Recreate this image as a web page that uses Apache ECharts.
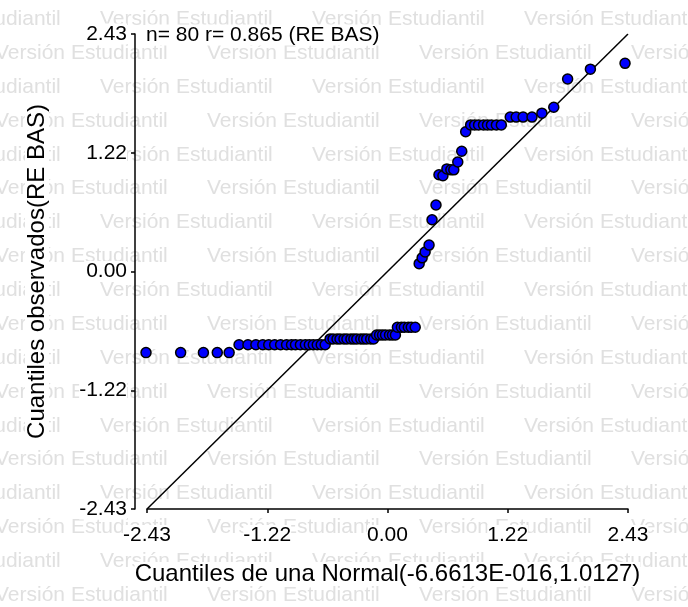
<!DOCTYPE html>
<html>
<head>
<meta charset="utf-8">
<script src="https://cdn.jsdelivr.net/npm/echarts@6/dist/echarts.min.js"></script>
<style>
html,body{margin:0;padding:0;background:#fff;}
#chart{width:688px;height:607px;}
</style>
</head>
<body>
<div id="chart"></div>
<script>
const xQuant = [
  -2.44, -2.09, -1.86, -1.72, -1.60,
  -1.50, -1.41, -1.33, -1.26, -1.20, -1.14, -1.08, -1.02, -0.97, -0.93, -0.88, -0.83, -0.79, -0.75, -0.71, -0.67, -0.63,
  -0.58, -0.55, -0.51, -0.48, -0.44, -0.41, -0.37, -0.34, -0.31, -0.27, -0.24, -0.21, -0.17, -0.14,
  -0.11, -0.08, -0.05, -0.02, 0.02, 0.05, 0.08,
  0.10, 0.14, 0.17, 0.21, 0.24, 0.28,
  0.32, 0.35, 0.38, 0.42, 0.45, 0.49, 0.52, 0.56, 0.60, 0.64, 0.67, 0.71, 0.75,
  0.79,
  0.84, 0.88, 0.92, 0.97, 1.01, 1.05, 1.10, 1.15,
  1.24, 1.30, 1.37, 1.46,
  1.56, 1.68, 1.82, 2.05, 2.40
];
const yObs = [
  -0.83, -0.83, -0.83, -0.83, -0.83,
  -0.75, -0.75, -0.75, -0.75, -0.75, -0.75, -0.75, -0.75, -0.75, -0.75, -0.75, -0.75, -0.75, -0.75, -0.75, -0.75, -0.75,
  -0.69, -0.69, -0.69, -0.69, -0.69, -0.69, -0.69, -0.69, -0.69, -0.69, -0.69, -0.69, -0.69, -0.69,
  -0.65, -0.65, -0.65, -0.65, -0.65, -0.65, -0.65,
  -0.57, -0.57, -0.57, -0.57, -0.57, -0.57,
  0.08, 0.14, 0.20, 0.27, 0.53, 0.68, 0.99, 0.98, 1.05, 1.04, 1.04, 1.12, 1.23,
  1.43,
  1.50, 1.50, 1.50, 1.50, 1.50, 1.50, 1.50, 1.50,
  1.58, 1.58, 1.58, 1.58,
  1.62, 1.68, 1.97, 2.07, 2.13
];
const refLineX = [-2.43, 2.43];
const refLineY = [-2.43, 2.43];
const tickLabels = ['-2.43', '-1.22', '0.00', '1.22', '2.43'];
const annotation = 'n= 80 r= 0.865 (RE BAS)';
const xTitle = 'Cuantiles de una Normal(-6.6613E-016,1.0127)';
const yTitle = 'Cuantiles observados(RE BAS)';
const watermark = 'Versión Estudiantil';

const FONT = '"Liberation Sans", Arial, sans-serif';
const AX_MIN = -2.43, AX_MAX = 2.43, AX_STEP = 1.215;
const fmt = v => tickLabels[Math.round((v - AX_MIN) / AX_STEP)];

// watermark layout
const wmEls = [];
const rowH = 33.86, row0 = 19.4, period = 212;
for (let k = 0; k < 19; k++) {
  const y = row0 + rowH * k;
  const off = (k % 2 === 0) ? 100 : -5;
  for (let x = off - period; x < 688; x += period) {
    wmEls.push({
      type: 'text', x: x, y: y, z: -10, silent: true,
      style: { text: watermark, font: '21px ' + FONT, fill: '#e0e0e0', verticalAlign: 'middle', align: 'left' }
    });
  }
}
wmEls.push({
  type: 'text', x: 146, y: 35, z: 10,
  style: { text: annotation, font: '21px ' + FONT, fill: '#000', verticalAlign: 'middle', align: 'left', backgroundColor: '#fff' }
});

const axisCommon = {
  type: 'value', min: AX_MIN, max: AX_MAX, interval: AX_STEP,
  axisLine: { show: true, onZero: false, lineStyle: { color: '#000', width: 1.5 } },
  axisTick: { show: true, length: 4, lineStyle: { color: '#000', width: 1.5 } },
  splitLine: { show: false },
  nameLocation: 'middle'
};

const chart = echarts.init(document.getElementById('chart'), null, { renderer: 'canvas' });
chart.setOption({
  animation: false,
  backgroundColor: '#fff',
  grid: { left: 147, right: 60, top: 34, bottom: 98, containLabel: false },
  graphic: { elements: wmEls },
  xAxis: Object.assign({}, axisCommon, {
    name: xTitle, nameGap: 53,
    nameTextStyle: { fontSize: 24, fontFamily: FONT, color: '#000', backgroundColor: '#fff' },
    axisLabel: { formatter: fmt, fontSize: 21, fontFamily: FONT, color: '#000', margin: 16,
      showMinLabel: true, showMaxLabel: true, backgroundColor: '#fff' }
  }),
  yAxis: Object.assign({}, axisCommon, {
    offset: 12,
    name: yTitle, nameGap: 86,
    nameTextStyle: { fontSize: 24, fontFamily: FONT, color: '#000', backgroundColor: '#fff' },
    axisLabel: { formatter: fmt, fontSize: 21, fontFamily: FONT, color: '#000', margin: 8,
      showMinLabel: true, showMaxLabel: true, backgroundColor: '#fff' }
  }),
  series: [
    {
      type: 'line', data: refLineX.map((v, i) => [v, refLineY[i]]),
      symbol: 'none', lineStyle: { color: '#000', width: 1.5 }, z: 3, silent: true
    },
    {
      type: 'scatter', data: xQuant.map((v, i) => [v, yObs[i]]),
      symbol: 'circle', symbolSize: 10, clip: false, z: 5,
      itemStyle: { color: '#0000ff', borderColor: '#000', borderWidth: 1.5, opacity: 1 }
    }
  ]
});
</script>
</body>
</html>
